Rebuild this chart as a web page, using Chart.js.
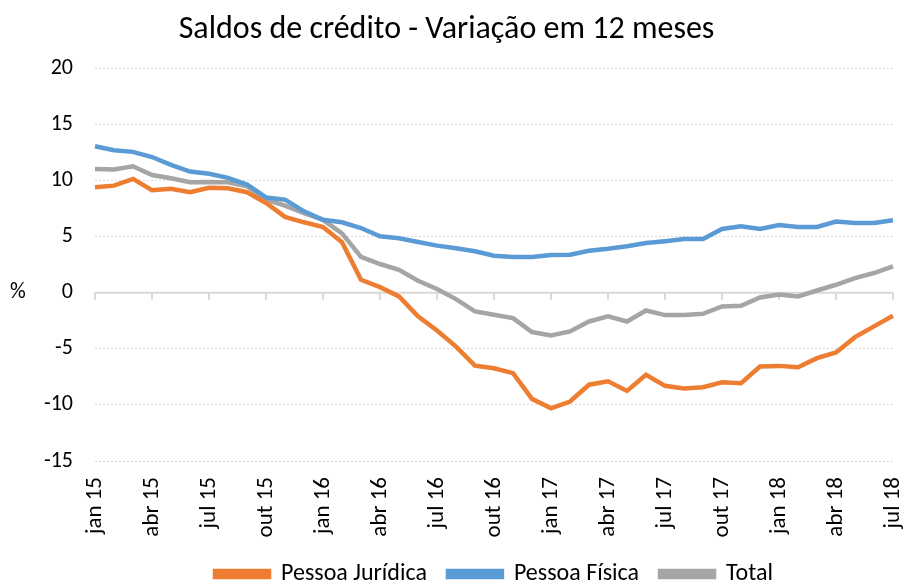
<!DOCTYPE html>
<html>
<head>
<meta charset="utf-8">
<script src="https://cdn.jsdelivr.net/npm/chart.js@4/dist/chart.umd.min.js"></script>
<style>
  html, body { margin: 0; padding: 0; background: #fff; }
  #wrap { width: 903px; height: 583px; position: relative; }
</style>
</head>
<body>
<div id="wrap"><canvas id="chart"></canvas></div>
<script>
const monthNames = ["jan", "fev", "mar", "abr", "mai", "jun", "jul", "ago", "set", "out", "nov", "dez"];
const years = ["15", "16", "17", "18"];

// jan 15 .. jul 18
const categories = [];
for (const y of years) {
  for (const m of monthNames) categories.push(m + " " + y);
}
categories.length = 43;

const pessoaJuridica = [
  9.4, 9.55, 10.15, 9.14, 9.26, 8.96, 9.35, 9.32, 8.96, 8.0, 6.76, 6.28, 5.86, 4.5,
  1.16, 0.5, -0.33, -2.1, -3.36, -4.8, -6.5, -6.73, -7.17, -9.46, -10.3, -9.7, -8.2, -7.9,
  -8.75, -7.32, -8.3, -8.54, -8.42, -7.98, -8.07, -6.58, -6.52, -6.64, -5.83, -5.33, -3.96, -3.0, -2.05
];
const pessoaFisica = [
  13.06, 12.7, 12.56, 12.1, 11.4, 10.8, 10.6, 10.24, 9.64, 8.5, 8.3, 7.26, 6.5, 6.28,
  5.77, 5.03, 4.85, 4.52, 4.2, 3.96, 3.7, 3.3, 3.19, 3.19, 3.36, 3.39, 3.75, 3.92,
  4.14, 4.43, 4.6, 4.8, 4.8, 5.69, 5.92, 5.69, 6.04, 5.86, 5.86, 6.34, 6.22, 6.22, 6.46
];
const total = [
  11.04, 10.98, 11.28, 10.5, 10.2, 9.85, 9.88, 9.85, 9.5, 8.3, 7.77, 7.1, 6.5, 5.3,
  3.19, 2.56, 2.05, 1.07, 0.33, -0.57, -1.67, -1.96, -2.26, -3.5, -3.8, -3.45, -2.56, -2.1,
  -2.56, -1.58, -1.99, -1.99, -1.88, -1.22, -1.16, -0.42, -0.15, -0.33, 0.2, 0.71, 1.31, 1.76, 2.35
];
const yTicks = [-15, -10, -5, 0, 5, 10, 15, 20];

const fontFamily = "Carlito, Lato, 'Noto Sans', sans-serif";

// solid zero line with small tick marks, plus the "%" label
const zeroLinePlugin = {
  id: "zeroLine",
  beforeDatasetsDraw(chart) {
    const { ctx, chartArea, scales } = chart;
    const y0 = scales.y.getPixelForValue(0);
    ctx.save();
    ctx.strokeStyle = "#d9d9d9";
    ctx.lineWidth = 2;
    ctx.beginPath();
    ctx.moveTo(chartArea.left, y0);
    ctx.lineTo(chartArea.right, y0);
    for (let i = 0; i < categories.length; i += 3) {
      const x = scales.x.getPixelForValue(i);
      ctx.moveTo(x, y0);
      ctx.lineTo(x, y0 + 7);
    }
    ctx.stroke();
    ctx.fillStyle = "#000";
    ctx.font = "22px " + fontFamily;
    ctx.textAlign = "left";
    ctx.textBaseline = "middle";
    ctx.fillText("%", 10, y0);
    ctx.restore();
  }
};

new Chart(document.getElementById("chart").getContext("2d"), {
  type: "line",
  data: {
    labels: categories,
    datasets: [
      { label: "Pessoa Jurídica", data: pessoaJuridica, borderColor: "#ED7D31", backgroundColor: "#ED7D31" },
      { label: "Pessoa Física", data: pessoaFisica, borderColor: "#5B9BD5", backgroundColor: "#5B9BD5" },
      { label: "Total", data: total, borderColor: "#A5A5A5", backgroundColor: "#A5A5A5" }
    ].map(d => Object.assign(d, { borderWidth: 4.5, pointRadius: 0, tension: 0, fill: false }))
  },
  options: {
    responsive: true,
    maintainAspectRatio: false,
    animation: false,
    layout: { padding: { left: 0, right: 10, top: 0, bottom: 0 } },
    plugins: {
      title: {
        display: true,
        text: "Saldos de crédito - Variação em 12 meses",
        color: "#000",
        font: { family: fontFamily, size: 32, weight: "normal" },
        padding: { top: 11, bottom: 19 }
      },
      legend: {
        position: "bottom",
        fullSize: false,
        maxHeight: 42,
        labels: {
          color: "#000",
          font: { family: fontFamily, size: 24 },
          boxWidth: 54,
          boxHeight: 6,
          padding: 21
        }
      },
      tooltip: { enabled: false }
    },
    scales: {
      x: {
        grid: { display: false, drawTicks: false },
        border: { display: false },
        afterFit: s => { s.paddingLeft = 0; s.paddingRight = 0; s.height = 80; },
        ticks: {
          autoSkip: false,
          minRotation: 90,
          maxRotation: 90,
          color: "#000",
          font: { family: fontFamily, size: 23 },
          padding: 16,
          callback: function (v, i) { return i % 3 === 0 ? categories[i] : null; }
        }
      },
      y: {
        min: -15,
        max: 20,
        afterBuildTicks: s => { s.ticks = yTicks.map(v => ({ value: v })); },
        afterFit: s => { s.width = 95; },
        grid: {
          color: c => (c.tick && c.tick.value === 0 ? "transparent" : "#d9d9d9"),
          lineWidth: 1,
          drawTicks: false
        },
        border: { display: false, dash: [2, 2] },
        ticks: {
          color: "#000",
          font: { family: fontFamily, size: 22 },
          padding: 22
        }
      }
    }
  },
  plugins: [zeroLinePlugin]
});
</script>
</body>
</html>
